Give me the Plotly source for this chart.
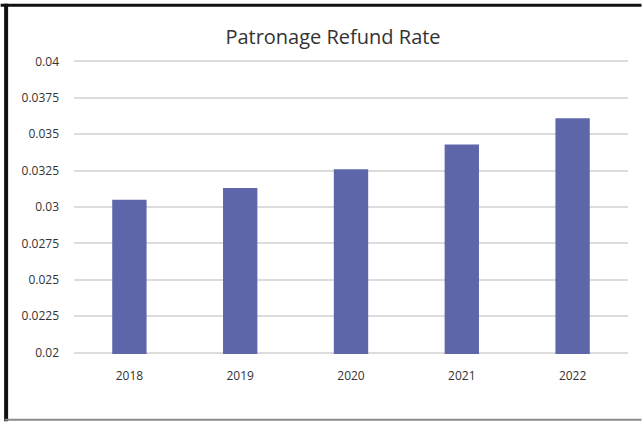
import plotly.graph_objects as go

years = ["2018", "2019", "2020", "2021", "2022"]
rates = [0.0305, 0.0313, 0.0326, 0.0343, 0.0361]
ytick_vals = [0.02, 0.0225, 0.025, 0.0275, 0.03, 0.0325, 0.035, 0.0375, 0.04]
ytick_text = ["0.02", "0.0225", "0.025", "0.0275", "0.03", "0.0325", "0.035", "0.0375", "0.04"]
y_range = [0.0199, 0.0401]

W, H = 642, 422
# pixel rows of 0.04 and 0.02 gridlines
y_top_px, y_bot_px = 61, 353
scale = (y_bot_px - y_top_px) / (0.04 - 0.02)
mt = y_top_px - (y_range[1] - 0.04) * scale
mb = H - (y_bot_px + (0.02 - y_range[0]) * scale)
ml, mr = 73.5, 13.5
pw, ph = W - ml - mr, H - mt - mb

def px_x(p):
    return (p - ml) / pw

def px_y(p):
    return (H - mb - p) / ph

fig = go.Figure(go.Bar(x=years, y=rates, marker_color="#5c66a8",
                       marker_line_width=0, width=0.31))

fig.update_layout(
    width=W, height=H,
    margin=dict(l=ml, r=mr, t=mt, b=mb),
    paper_bgcolor="white", plot_bgcolor="white",
    title=dict(text="Patronage Refund Rate", x=333 / W,
               xanchor="center", y=1 - 37 / H, yanchor="middle",
               font=dict(family="Open Sans, Noto Sans, sans-serif", size=20, color="#333333")),
    font=dict(family="Open Sans, Noto Sans, sans-serif", size=12, color="#333333"),
    showlegend=False,
    shapes=[
        dict(type="line", xref="paper", yref="paper", x0=px_x(0), x1=px_x(W), y0=px_y(4.5), y1=px_y(4.5),
             line=dict(color="#111111", width=3)),
        dict(type="line", xref="paper", yref="paper", x0=px_x(5.5), x1=px_x(5.5), y0=px_y(3), y1=px_y(422),
             line=dict(color="#111111", width=4)),
        dict(type="line", xref="paper", yref="paper", x0=px_x(4), x1=px_x(W), y0=px_y(420.5), y1=px_y(420.5),
             line=dict(color="#8a8a8a", width=2)),
    ],
)
fig.update_xaxes(showgrid=False, showline=False, ticks="", tickfont=dict(size=12, color="#333333"),
                 ticklabelstandoff=13)
fig.update_yaxes(range=y_range, tickvals=ytick_vals, ticktext=ytick_text,
                 showgrid=True, gridcolor="#dcdcdc", gridwidth=1.5, zeroline=False,
                 showline=False, ticks="", ticklabelstandoff=14,
                 tickfont=dict(size=12, color="#333333"))

fig.write_html("out.html", config={"displayModeBar": False},
               post_script="document.body.style.margin='0';")
